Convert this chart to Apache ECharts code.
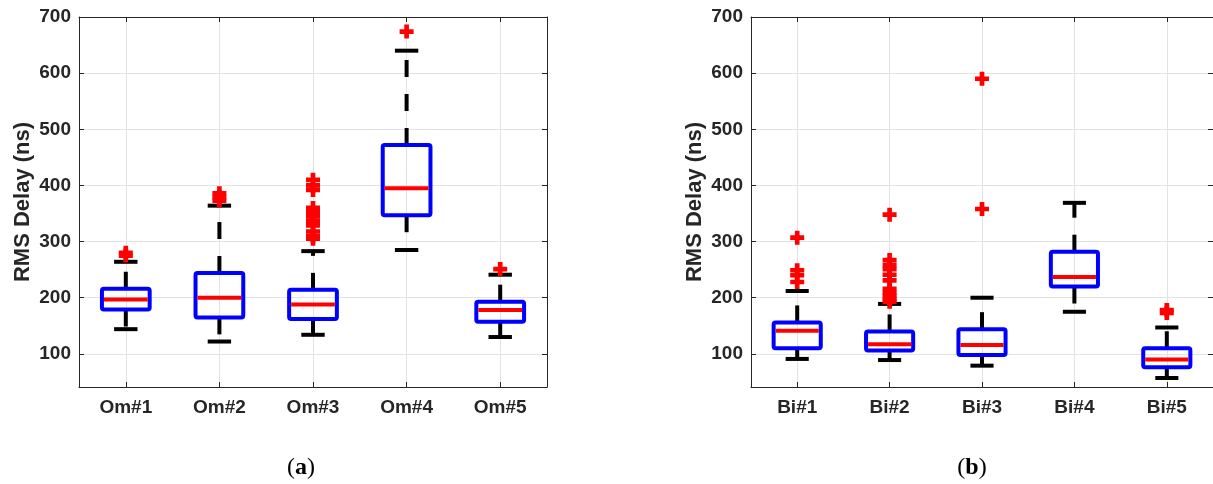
<!DOCTYPE html>
<html>
<head>
<meta charset="utf-8">
<script src="https://cdn.jsdelivr.net/npm/echarts@6/dist/echarts.min.js"></script>
<style>
html,body{margin:0;padding:0;background:#fff;}
#chart{width:1213px;height:484px;}
</style>
</head>
<body>
<div id="chart"></div>
<script>
// ---- Data ----
const omCategories = ['Om#1', 'Om#2', 'Om#3', 'Om#4', 'Om#5'];
const omMin    = [144, 122, 134, 285, 130];
const omQ1     = [179, 165, 162, 347, 157];
const omMedian = [197, 200, 188, 395, 178];
const omQ3     = [216, 244, 214, 472, 193];
const omMax    = [264, 364, 283, 640, 241];
const omOutliers = [
  [0, 280], [0, 275],
  [1, 386], [1, 379], [1, 373],
  [2, 410], [2, 400], [2, 392], [2, 360], [2, 352], [2, 345], [2, 337], [2, 329], [2, 318], [2, 310], [2, 305],
  [3, 674],
  [4, 251]
];

const biCategories = ['Bi#1', 'Bi#2', 'Bi#3', 'Bi#4', 'Bi#5'];
const biMin    = [91, 89, 79, 175, 57];
const biQ1     = [110, 106, 98, 220, 76];
const biMedian = [141, 117, 116, 237, 90];
const biQ3     = [156, 140, 144, 282, 110];
const biMax    = [212, 189, 200, 369, 147];
const biOutliers = [
  [0, 307], [0, 249], [0, 240], [0, 228],
  [1, 348], [1, 267], [1, 258], [1, 251], [1, 241], [1, 231], [1, 216], [1, 209], [1, 203], [1, 198], [1, 193],
  [2, 590], [2, 358],
  [4, 178], [4, 173]
];

const yTickValues = [100, 200, 300, 400, 500, 600, 700];
const yTitle = 'RMS Delay (ns)';
const captions = ['a', 'b'];

// ---- helpers ----
function boxRows(mn, q1, md, q3, mx) {
  return mn.map((v, i) => [i, v, q1[i], md[i], q3[i], mx[i]]);
}

const AX = '#262626';
const GRID = '#e3e3e3';
const FONT = 'Liberation Sans, Arial, sans-serif';
const LW = 4;

function renderBox(params, api) {
  const i = api.value(0);
  const lo = api.coord([i, api.value(1)]);
  const q1 = api.coord([i, api.value(2)]);
  const md = api.coord([i, api.value(3)]);
  const q3 = api.coord([i, api.value(4)]);
  const hi = api.coord([i, api.value(5)]);
  const band = api.size([1, 0])[0];
  const bw = band * 0.51;
  const cw = band * 0.25;
  const cx = q1[0];
  return {
    type: 'group',
    children: [
      { type: 'line', shape: { x1: cx, y1: q3[1], x2: cx, y2: hi[1] },
        style: { stroke: '#000', lineWidth: LW, lineDash: [17, 17] } },
      { type: 'line', shape: { x1: cx, y1: q1[1], x2: cx, y2: lo[1] },
        style: { stroke: '#000', lineWidth: LW, lineDash: [17, 17] } },
      { type: 'line', shape: { x1: cx - cw / 2, y1: hi[1], x2: cx + cw / 2, y2: hi[1] },
        style: { stroke: '#000', lineWidth: LW } },
      { type: 'line', shape: { x1: cx - cw / 2, y1: lo[1], x2: cx + cw / 2, y2: lo[1] },
        style: { stroke: '#000', lineWidth: LW } },
      { type: 'rect', shape: { x: cx - bw / 2, y: q3[1], width: bw, height: q1[1] - q3[1], r: 2 },
        style: { fill: 'none', stroke: '#0000ff', lineWidth: LW } },
      { type: 'line', shape: { x1: cx - bw / 2 + 2, y1: md[1], x2: cx + bw / 2 - 2, y2: md[1] },
        style: { stroke: '#ff0000', lineWidth: LW } }
    ]
  };
}

const PLUS = 'path://M4,0H8V4H12V8H8V12H4V8H0V4H4Z';

function xAxes(cats, gridIndex) {
  return [
    {
      type: 'category', gridIndex, data: cats, boundaryGap: true,
      axisLine: { show: true, lineStyle: { color: AX, width: 1 } },
      axisTick: { show: true, inside: true, alignWithLabel: true, length: 5, lineStyle: { color: AX } },
      axisLabel: { color: AX, fontSize: 19, fontWeight: 'bold', fontFamily: FONT, margin: 11 },
      splitLine: { show: true, alignWithLabel: true, lineStyle: { color: GRID, width: 1 } }
    },
    {
      type: 'category', gridIndex, data: cats, boundaryGap: true, position: 'top',
      axisLine: { show: true, lineStyle: { color: AX, width: 1 } },
      axisTick: { show: true, inside: true, alignWithLabel: true, length: 5, lineStyle: { color: AX } },
      axisLabel: { show: false },
      splitLine: { show: false }
    }
  ];
}

function yAxes(gridIndex) {
  return [
    {
      type: 'value', gridIndex, min: 41, max: 700,
      name: yTitle, nameLocation: 'middle', nameGap: 45,
      nameTextStyle: { color: AX, fontSize: 22, fontWeight: 'bold', fontFamily: FONT },
      axisLine: { show: true, lineStyle: { color: AX, width: 1 } },
      axisTick: { show: true, inside: true, length: 5, lineStyle: { color: AX }, customValues: yTickValues },
      axisLabel: { color: AX, fontSize: 19, fontWeight: 'bold', fontFamily: FONT, margin: 8, customValues: yTickValues },
      splitLine: { show: true, lineStyle: { color: GRID, width: 1 } }
    },
    {
      type: 'value', gridIndex, min: 41, max: 700, position: 'right',
      axisLine: { show: true, lineStyle: { color: AX, width: 1 } },
      axisTick: { show: true, inside: true, length: 5, lineStyle: { color: AX }, customValues: yTickValues },
      axisLabel: { show: false },
      splitLine: { show: false }
    }
  ];
}

const chart = echarts.init(document.getElementById('chart'), null, { renderer: 'canvas' });

const option = {
  animation: false,
  backgroundColor: '#ffffff',
  grid: [
    { left: 79, top: 17, width: 468, height: 370 },
    { left: 751, top: 17, width: 470, height: 370 }
  ],
  xAxis: [...xAxes(omCategories, 0), ...xAxes(biCategories, 1)],
  yAxis: [...yAxes(0), ...yAxes(1)],
  series: [
    {
      type: 'custom', xAxisIndex: 0, yAxisIndex: 0,
      data: boxRows(omMin, omQ1, omMedian, omQ3, omMax),
      encode: { x: 0, y: [1, 2, 3, 4, 5] },
      renderItem: renderBox, z: 3
    },
    {
      type: 'scatter', xAxisIndex: 0, yAxisIndex: 0,
      data: omOutliers, symbol: PLUS, symbolSize: 14,
      itemStyle: { color: '#ff0000', opacity: 1 }, z: 4
    },
    {
      type: 'custom', xAxisIndex: 2, yAxisIndex: 2,
      data: boxRows(biMin, biQ1, biMedian, biQ3, biMax),
      encode: { x: 0, y: [1, 2, 3, 4, 5] },
      renderItem: renderBox, z: 3
    },
    {
      type: 'scatter', xAxisIndex: 2, yAxisIndex: 2,
      data: biOutliers, symbol: PLUS, symbolSize: 14,
      itemStyle: { color: '#ff0000', opacity: 1 }, z: 4
    }
  ],
  graphic: captions.map((c, k) => ({
    type: 'text',
    x: k === 0 ? 301 : 972,
    y: 468,
    style: {
      text: '{p|(}{b|' + c + '}{p|)}',
      align: 'center', verticalAlign: 'middle',
      rich: {
        p: { fontFamily: 'Liberation Serif, serif', fontSize: 24, fill: '#000' },
        b: { fontFamily: 'Liberation Serif, serif', fontSize: 24, fontWeight: 'bold', fill: '#000' }
      }
    }
  }))
};

chart.setOption(option);
</script>
</body>
</html>
